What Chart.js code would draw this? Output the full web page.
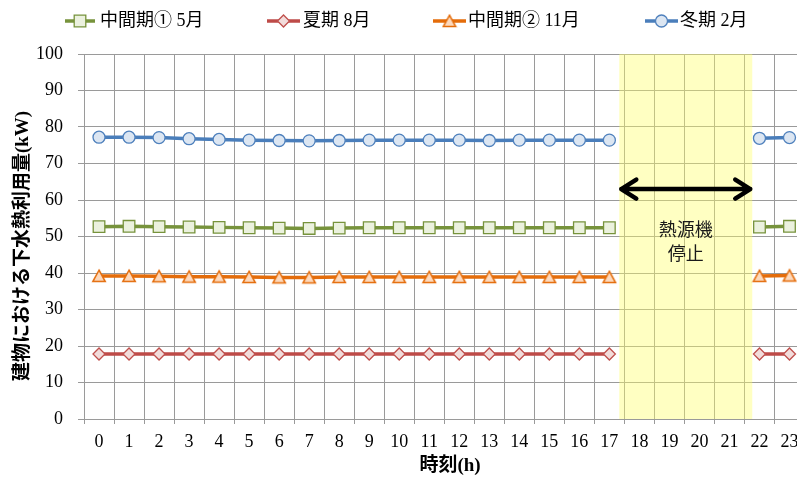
<!DOCTYPE html>
<html>
<head>
<meta charset="utf-8">
<script src="https://cdn.jsdelivr.net/npm/chart.js@4/dist/chart.umd.min.js"></script>
<style>
  html, body { margin: 0; padding: 0; background: #fff; overflow: hidden; }
  #wrap { position: absolute; left: 0; top: 0; width: 814px; height: 477px; }
</style>
</head>
<body>
<div id="wrap"><canvas id="c" width="814" height="477"></canvas></div>
<script>
// 時刻 (h)
const hours = ['0','1','2','3','4','5','6','7','8','9','10','11','12','13','14','15','16','17','18','19','20','21','22','23'];

// 建物における下水熱利用量 (kW) — 18〜21時は熱源機停止
const may = [52.7,52.8,52.7,52.6,52.5,52.4,52.3,52.2,52.3,52.4,52.4,52.4,52.4,52.4,52.4,52.4,52.4,52.4,null,null,null,null,52.6,52.8];
const aug = [17.8,17.8,17.8,17.8,17.8,17.8,17.8,17.8,17.8,17.8,17.8,17.8,17.8,17.8,17.8,17.8,17.8,17.8,null,null,null,null,17.8,17.8];
const nov = [39.2,39.2,39.1,39.0,39.0,38.9,38.8,38.8,38.9,38.9,38.9,38.9,38.9,38.9,38.9,38.9,38.9,38.9,null,null,null,null,39.2,39.3];
const feb = [77.2,77.2,77.1,76.8,76.6,76.4,76.3,76.2,76.3,76.4,76.4,76.4,76.4,76.3,76.4,76.4,76.4,76.4,null,null,null,null,76.9,77.1];

const seriesNames = ['中間期① 5月', '夏期 8月', '中間期② 11月', '冬期 2月'];

// y axis range and tick step
const yMin = 0, yMax = 100, yStep = 10;

// heat-source stop band (hour units), arrow height and label lines (kW units)
const stopRange = [17.33, 21.76];
const arrowY = 63;
const stopLines = ['熱源機', '停止'];
const stopLineY = [51.9, 45.5];

const yTitle = '建物における下水熱利用量(kW)';
const xTitle = '時刻(h)';

const SERIF = '"Liberation Serif", "Times New Roman", "Noto Sans CJK JP", serif';
const GOTHIC = '"Noto Sans CJK JP", "Noto Sans", sans-serif';
const GRID = '#9a9a9a';

// centred triangle marker
function triMarker(fill, stroke) {
  const c = document.createElement('canvas');
  c.width = 16; c.height = 16;
  const g = c.getContext('2d');
  g.beginPath();
  g.moveTo(8, 2.2);
  g.lineTo(14.2, 13.6);
  g.lineTo(1.8, 13.6);
  g.closePath();
  g.fillStyle = fill; g.fill();
  g.lineWidth = 1.5; g.strokeStyle = stroke; g.stroke();
  return c;
}

const styles = [
  { line: '#77933C', fill: '#EBF1DE', mark: '#77933C', pointStyle: 'rect', radius: 8.2 },
  { line: '#BE4B48', fill: '#F2DCDB', mark: '#C0504D', pointStyle: 'rectRot', radius: 6 },
  { line: '#E46C0A', fill: '#FCD9BD', mark: '#E46C0A', pointStyle: triMarker('#FCD9BD', '#E46C0A'), radius: 7 },
  { line: '#4A7EBB', fill: '#DCE6F2', mark: '#4F81BD', pointStyle: 'circle', radius: 6 }
];

const values = [may, aug, nov, feb];

const datasets = values.map((v, i) => ({
  label: seriesNames[i],
  data: v,
  borderColor: styles[i].line,
  borderWidth: 3.5,
  backgroundColor: styles[i].fill,
  pointStyle: styles[i].pointStyle,
  pointRadius: styles[i].radius,
  pointHoverRadius: styles[i].radius,
  pointBackgroundColor: styles[i].fill,
  pointBorderColor: styles[i].mark,
  pointBorderWidth: 1.3,
  spanGaps: false,
  tension: 0,
  fill: false
}));

const deco = {
  id: 'deco',
  beforeDatasetsDraw(chart) {
    const { ctx, chartArea: a, scales: { x } } = chart;
    const x0 = x.getPixelForValue(stopRange[0]);
    const x1 = x.getPixelForValue(stopRange[1]);
    ctx.save();
    ctx.fillStyle = 'rgba(255,255,102,0.4)';
    ctx.fillRect(x0, a.top, x1 - x0, a.bottom - a.top);
    ctx.restore();
  },
  afterDatasetsDraw(chart) {
    const { ctx, scales: { x, y } } = chart;
    const x0 = x.getPixelForValue(stopRange[0]);
    const x1 = x.getPixelForValue(stopRange[1]);
    const ay = y.getPixelForValue(arrowY);
    ctx.save();
    ctx.strokeStyle = '#000';
    ctx.lineWidth = 4.5;
    ctx.lineCap = 'round';
    ctx.lineJoin = 'round';
    ctx.beginPath();
    ctx.moveTo(x0 + 2, ay); ctx.lineTo(x1 - 2, ay);
    ctx.moveTo(x0 + 17, ay - 9.5); ctx.lineTo(x0 + 2, ay); ctx.lineTo(x0 + 17, ay + 9.5);
    ctx.moveTo(x1 - 17, ay - 9.5); ctx.lineTo(x1 - 2, ay); ctx.lineTo(x1 - 17, ay + 9.5);
    ctx.stroke();
    ctx.fillStyle = '#1a1a1a';
    ctx.font = '18px ' + GOTHIC;
    ctx.textAlign = 'center';
    ctx.textBaseline = 'middle';
    const cx = (x0 + x1) / 2;
    stopLines.forEach((t, i) => ctx.fillText(t, cx, y.getPixelForValue(stopLineY[i])));
    ctx.restore();
  },
  afterDraw(chart) {
    const { ctx } = chart;
    ctx.save();
    // legend
    const legendY = 21;
    const lineX = [[65, 95], [267, 300], [433, 466], [645, 678]];
    const textX = [100, 303, 468, 680];
    ctx.font = '18px ' + SERIF;
    ctx.textBaseline = 'middle';
    ctx.textAlign = 'left';
    chart.data.datasets.forEach((ds, i) => {
      ctx.strokeStyle = ds.borderColor;
      ctx.lineWidth = 3.5;
      ctx.beginPath();
      ctx.moveTo(lineX[i][0], legendY);
      ctx.lineTo(lineX[i][1], legendY);
      ctx.stroke();
      ctx.fillStyle = ds.pointBackgroundColor;
      ctx.strokeStyle = ds.pointBorderColor;
      ctx.lineWidth = ds.pointBorderWidth;
      Chart.helpers.drawPoint(ctx, {
        pointStyle: ds.pointStyle, radius: ds.pointRadius, rotation: 0, borderWidth: ds.pointBorderWidth
      }, (lineX[i][0] + lineX[i][1]) / 2, legendY);
      ctx.fillStyle = '#000';
      ctx.fillText(ds.label, textX[i], legendY);
    });
    // axis titles
    ctx.fillStyle = '#000';
    ctx.font = 'bold 19px ' + SERIF;
    ctx.textAlign = 'center';
    ctx.fillText(xTitle, 450, 466);
    ctx.translate(23, 246);
    ctx.rotate(-Math.PI / 2);
    ctx.fillText(yTitle, 0, 0);
    ctx.restore();
  }
};

new Chart(document.getElementById('c'), {
  type: 'line',
  data: { labels: hours, datasets },
  plugins: [deco],
  options: {
    responsive: false,
    animation: false,
    devicePixelRatio: 1,
    layout: { padding: { top: 54, right: 7, left: 0, bottom: 0 } },
    plugins: { legend: { display: false }, tooltip: { enabled: false } },
    scales: {
      x: {
        type: 'category',
        offset: true,
        grid: { offset: true, color: GRID, lineWidth: 1, tickLength: 5, tickColor: GRID },
        border: { color: GRID, width: 1 },
        ticks: { color: '#000', font: { family: SERIF, size: 18 }, padding: 7, maxRotation: 0, autoSkip: false },
        afterFit(s) { s.height = 58; }
      },
      y: {
        min: yMin, max: yMax,
        grid: { color: GRID, lineWidth: 1, tickLength: 6, tickColor: GRID },
        border: { color: GRID, width: 1 },
        ticks: { stepSize: yStep, color: '#000', font: { family: SERIF, size: 18 }, padding: 15 },
        afterFit(s) { s.width = 84; }
      }
    }
  }
});
</script>
</body>
</html>
